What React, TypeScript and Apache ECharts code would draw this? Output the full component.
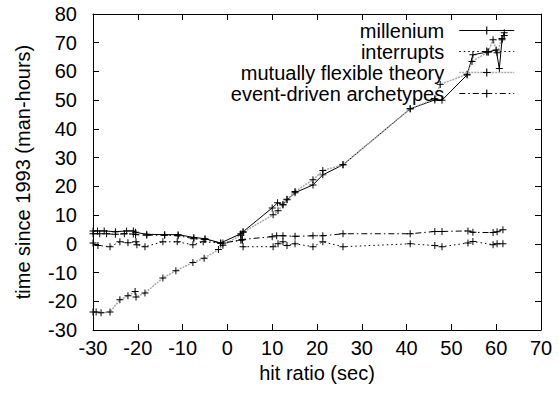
import React, { useEffect, useRef } from "react";
import * as echarts from "echarts";

const seriesNames = ["millenium", "interrupts", "mutually flexible theory", "event-driven archetypes"];

const milleniumX = [-30, -29, -27.5, -25, -22.5, -21, -20.5, -18, -14, -11, -7.5, -5, -1.5, 3, 3.5, 10, 11.2, 12.4, 13.3, 15.1, 19.1, 21.3, 25.8, 40.8, 46.3, 47.9, 53.5, 54.8, 58.2, 60, 60.7, 61.3, 61.8];
const milleniumY = [4.5, 4.5, 4.5, 4.2, 4.5, 4.5, 4, 3.3, 3.2, 3.2, 2.2, 1.8, 0.3, 3.5, 4.2, 12.5, 14.3, 13.6, 15.3, 17.8, 20.5, 24, 27.5, 47, 50.1, 50, 58.8, 65.8, 66.8, 67.5, 61, 71, 73.5];

const interruptsX = [-30, -28.9, -26.2, -24, -22.2, -20.4, -20.2, -18.4, -14.4, -11.2, -7.7, -5.4, -1, 3.3, 3.5, 10.2, 11.3, 12.4, 13.3, 15.1, 19.1, 21.3, 25.8, 40.8, 46.3, 47.9, 53.7, 54.8, 59.3, 60.2, 61.5];
const interruptsY = [0.3, -0.6, -1, 0.7, 0.4, 0.7, -0.3, -1, 0.7, 0.7, -0.3, 0.7, 0.3, 1.4, -1, -1, 0, 0.7, -0.6, 0, -1, 0.7, -1, 0, -0.6, -1, 0.3, 0.8, -0.3, 0, 0];

const flexibleX = [-30, -29.3, -28.2, -26.2, -24, -22.2, -20.6, -20.4, -18.4, -14.4, -11.5, -7.7, -5.2, -2, -1, 3, 3.5, 10.2, 11.3, 12.4, 13.3, 15.1, 19.1, 21.3, 25.8, 40.8, 46.3, 47.5, 53.5, 54.6, 58.2, 59.3, 60.2, 61.3, 61.8];
const flexibleY = [-23.7, -23.7, -24, -23.7, -19.5, -18.1, -16.6, -18.5, -17.1, -11.9, -9.4, -6.5, -5, -2, -0.5, 3, 4, 10.1, 11.5, 13.6, 15.5, 18.2, 22.3, 25.5, 27.5, 47, 50.5, 55.5, 59, 63.5, 66.8, 71, 66.5, 71.5, 72.5];

const eventX = [-30, -28.5, -27, -25, -23, -21, -20.5, -18, -14, -11, -7.5, -5, -1.5, 3, 3.3, 10, 11, 12.4, 15.1, 19.1, 21.3, 25.8, 40.8, 46.3, 47.9, 53.7, 54.8, 59.3, 60.2, 61.5];
const eventY = [3.5, 3.5, 3.5, 3.3, 3.5, 3.4, 3.2, 3, 3, 2.8, 1.8, 1.5, 0.2, 1.2, 1.5, 2.5, 2.8, 2.8, 2.6, 2.8, 2.8, 3.5, 3.5, 4.3, 4.3, 4.5, 4, 3.9, 4.2, 4.9];

const xTicks = { min: -30, max: 70, interval: 10 };
const yTicks = { min: -30, max: 80, interval: 10 };

const FONT = "Liberation Sans, Arial, Helvetica, sans-serif";
const PLUS = "path://M4.3,0H5.7V4.3H10V5.7H5.7V10H4.3V5.7H0V4.3H4.3Z";

function pairs(xs: number[], ys: number[]) {
  return xs.map((x, i) => [x, ys[i]]);
}

export default function App() {
  const ref = useRef<HTMLDivElement>(null);
  useEffect(() => {
    if (!ref.current) return;
    const chart = echarts.init(ref.current, null, { renderer: "svg" });
    const label = { fontSize: 20, color: "#000", fontFamily: FONT };
    const lineC = { color: "#000", width: 1 };
    const mkX = (pos: string, show: boolean) => ({
      type: "value",
      ...xTicks,
      position: pos,
      axisLine: { onZero: false, lineStyle: lineC },
      axisTick: { inside: true, length: 6, lineStyle: lineC },
      axisLabel: { show, margin: 8, ...label },
      splitLine: { show: false },
      ...(show
        ? { name: "hit ratio (sec)", nameLocation: "middle", nameGap: 26, nameTextStyle: label }
        : {}),
    });
    const mkY = (pos: string, show: boolean) => ({
      type: "value",
      ...yTicks,
      position: pos,
      axisLine: { onZero: false, lineStyle: lineC },
      axisTick: { inside: true, length: 6, lineStyle: lineC },
      axisLabel: { show, margin: 16, ...label },
      splitLine: { show: false },
      ...(show
        ? { name: "time since 1993 (man-hours)", nameLocation: "middle", nameGap: 60, nameTextStyle: label }
        : {}),
    });
    const styles: any[] = [
      { color: "#000", width: 1, type: "solid" },
      { color: "#000", width: 1, type: [1.5, 3] },
      { color: "#a8a8a8", width: 1.5, type: [2, 1] },
      { color: "#000", width: 1, type: [6, 3, 1.5, 3] },
    ];
    const mkS = (name: string, xs: number[], ys: number[], lineStyle: any) => ({
      name,
      type: "line",
      data: pairs(xs, ys),
      symbol: PLUS,
      symbolSize: 7,
      showAllSymbol: true,
      lineStyle,
      itemStyle: { color: "#000" },
      xAxisIndex: 0,
      yAxisIndex: 0,
    });
    chart.setOption({
      animation: false,
      grid: { left: 93, right: 18, top: 14, bottom: 66 },
      xAxis: [mkX("bottom", true), mkX("top", false)],
      yAxis: [mkY("left", true), mkY("right", false)],
      legend: {
        data: seriesNames.map((n, i) => ({ name: n, lineStyle: { width: i === 2 ? 1.5 : 1 } })),
        orient: "vertical",
        align: "right",
        right: 44,
        top: 20,
        padding: 0,
        itemGap: 0,
        itemWidth: 55,
        itemHeight: 10,
        textStyle: { ...label, lineHeight: 21, padding: [0, 10, 0, 0] },
        selectedMode: false,
      },
      series: [
        mkS(seriesNames[0], milleniumX, milleniumY, styles[0]),
        mkS(seriesNames[1], interruptsX, interruptsY, styles[1]),
        mkS(seriesNames[2], flexibleX, flexibleY, styles[2]),
        mkS(seriesNames[3], eventX, eventY, styles[3]),
      ],
    });
    return () => chart.dispose();
  }, []);
  return (
    <div
      ref={ref}
      style={{ position: "absolute", left: 0, top: 0, width: 559, height: 396, background: "#fff" }}
    />
  );
}
